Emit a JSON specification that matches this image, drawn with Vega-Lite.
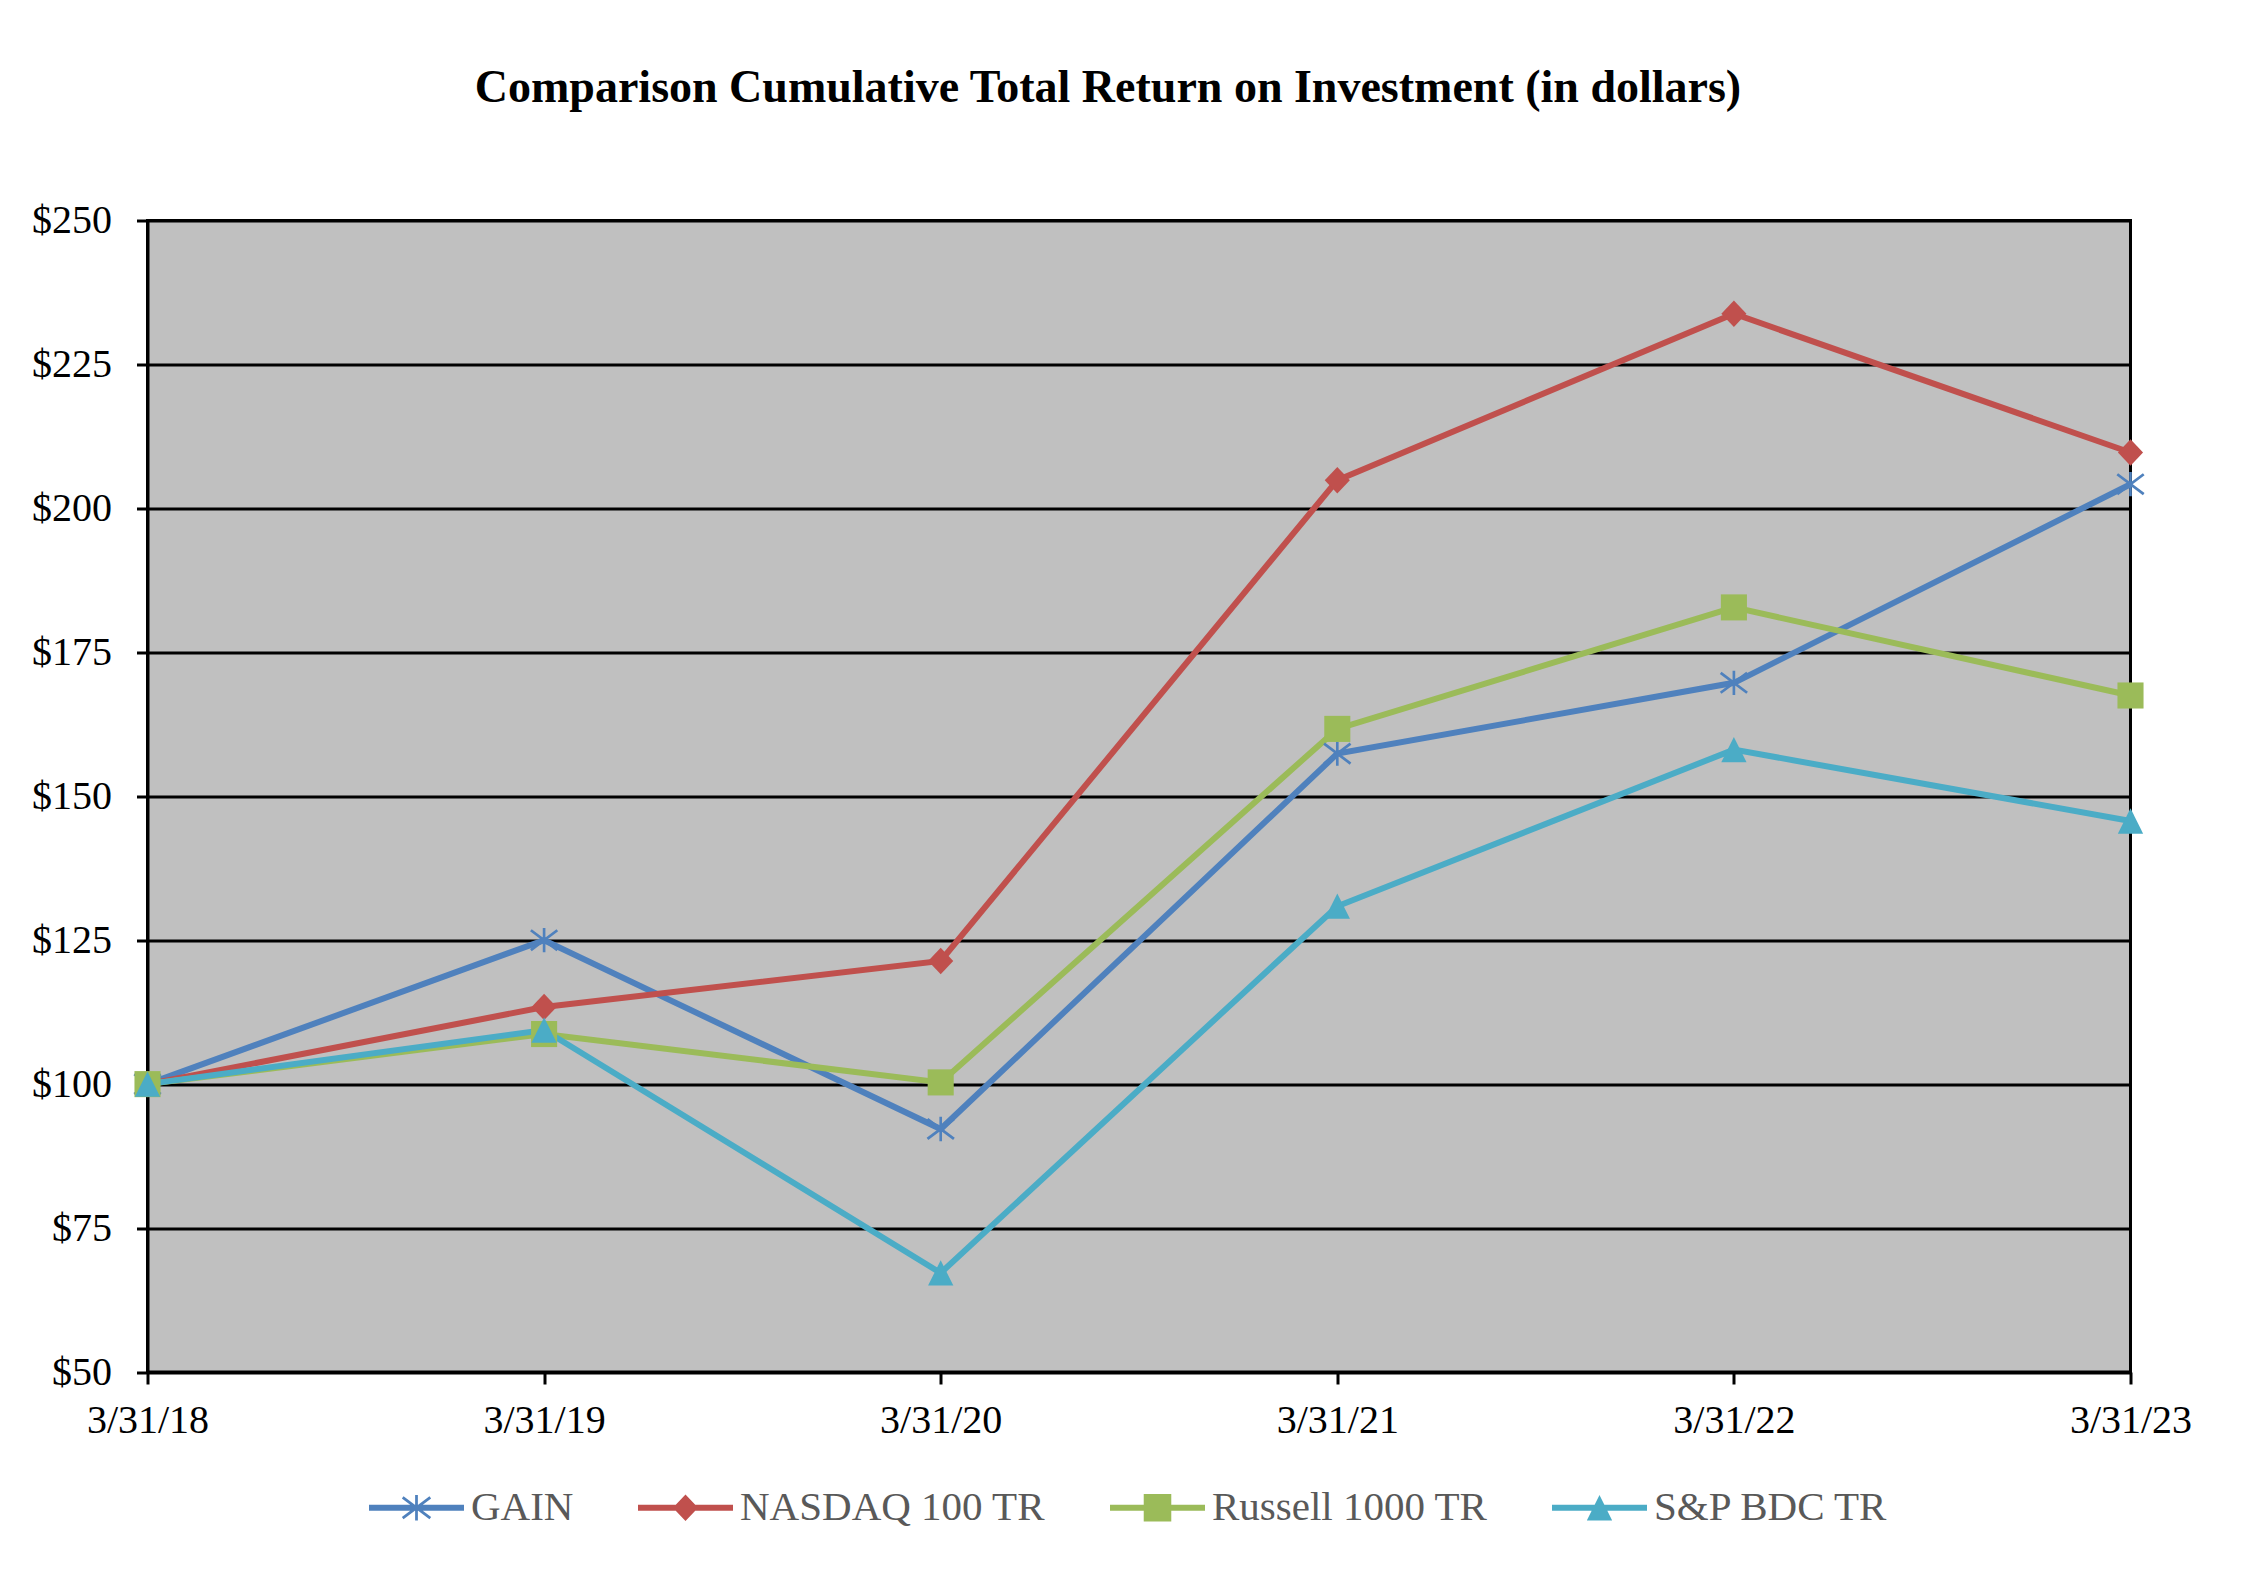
{
  "$schema": "https://vega.github.io/schema/vega-lite/v6.json",
  "width": 1983,
  "height": 1151.5,
  "autosize": {"type": "none"},
  "padding": {"left": 147.5, "top": 220.5, "right": 114.5, "bottom": 201},
  "background": "white",
  "view": {"stroke": "black", "strokeWidth": 3, "fill": "#C0C0C0"},
  "title": {
    "text": "Comparison Cumulative Total Return on Investment (in dollars)",
    "font": "Liberation Serif",
    "fontSize": 46,
    "fontWeight": "bold",
    "color": "black",
    "anchor": "middle",
    "frame": "group",
    "dx": -31,
    "offset": 53,
    "baseline": "alphabetic"
  },
  "config": {
    "view": {"stroke": "black", "strokeWidth": 3, "fill": "#C0C0C0"},
    "axis": {"labelFont": "Liberation Serif", "labelFontSize": 40, "labelColor": "black"}
  },
  "data": {
    "values": [
      {"date": "3/31/18", "series": "GAIN", "value": 100},
      {"date": "3/31/19", "series": "GAIN", "value": 125.0},
      {"date": "3/31/20", "series": "GAIN", "value": 92.2},
      {"date": "3/31/21", "series": "GAIN", "value": 157.4},
      {"date": "3/31/22", "series": "GAIN", "value": 169.7},
      {"date": "3/31/23", "series": "GAIN", "value": 204.2},
      {"date": "3/31/18", "series": "NASDAQ 100 TR", "value": 100},
      {"date": "3/31/19", "series": "NASDAQ 100 TR", "value": 113.4},
      {"date": "3/31/20", "series": "NASDAQ 100 TR", "value": 121.4},
      {"date": "3/31/21", "series": "NASDAQ 100 TR", "value": 204.9},
      {"date": "3/31/22", "series": "NASDAQ 100 TR", "value": 233.8},
      {"date": "3/31/23", "series": "NASDAQ 100 TR", "value": 209.7},
      {"date": "3/31/18", "series": "Russell 1000 TR", "value": 100},
      {"date": "3/31/19", "series": "Russell 1000 TR", "value": 108.7},
      {"date": "3/31/20", "series": "Russell 1000 TR", "value": 100.3},
      {"date": "3/31/21", "series": "Russell 1000 TR", "value": 161.7},
      {"date": "3/31/22", "series": "Russell 1000 TR", "value": 182.8},
      {"date": "3/31/23", "series": "Russell 1000 TR", "value": 167.5},
      {"date": "3/31/18", "series": "S&P BDC TR", "value": 100},
      {"date": "3/31/19", "series": "S&P BDC TR", "value": 109.4},
      {"date": "3/31/20", "series": "S&P BDC TR", "value": 67.2},
      {"date": "3/31/21", "series": "S&P BDC TR", "value": 130.9},
      {"date": "3/31/22", "series": "S&P BDC TR", "value": 158.1},
      {"date": "3/31/23", "series": "S&P BDC TR", "value": 145.7}
    ]
  },
  "encoding": {
    "x": {
      "field": "date",
      "type": "ordinal",
      "scale": {"type": "point", "padding": 0},
      "axis": {
        "title": null,
        "labelAngle": 0,
        "grid": false,
        "domainColor": "black",
        "domainWidth": 3,
        "tickColor": "black",
        "tickWidth": 3,
        "tickSize": 12,
        "labelPadding": 16
      }
    },
    "y": {
      "field": "value",
      "type": "quantitative",
      "scale": {"domain": [50, 250], "nice": false, "zero": false},
      "axis": {
        "title": null,
        "values": [50, 75, 100, 125, 150, 175, 200, 225, 250],
        "labelExpr": "'$' + datum.value",
        "grid": true,
        "gridColor": "black",
        "gridWidth": 3,
        "gridOpacity": 1,
        "domainColor": "black",
        "domainWidth": 3,
        "tickColor": "black",
        "tickWidth": 3,
        "tickSize": 11,
        "labelPadding": 25
      }
    }
  },
  "layer": [
    {
      "mark": {"type": "line", "strokeWidth": 6},
      "encoding": {
        "color": {
          "field": "series",
          "type": "nominal",
          "scale": {
            "domain": ["GAIN", "NASDAQ 100 TR", "Russell 1000 TR", "S&P BDC TR"],
            "range": ["#4F81BD", "#C0504D", "#9BBB59", "#4BACC6"]
          },
          "legend": {
            "orient": "none",
            "legendX": 221.5,
            "legendY": 1239.5,
            "direction": "horizontal",
            "title": null,
            "symbolSize": 9025,
            "labelFont": "Liberation Serif",
            "labelFontSize": 41,
            "labelColor": "#595959",
            "labelOffset": 7,
            "labelLimit": 500,
            "columnPadding": 64,
            "padding": 0,
            "encode": {
              "symbols": {
                "update": {
                  "shape": {"signal": "datum.value === 'GAIN' ? 'M-1,-0.063H1V0.063H-1Z M-0.029,-0.267H0.029V0.267H-0.029Z M-0.273,-0.2415L0.308,0.193L0.273,0.2415L-0.308,-0.193Z M-0.308,0.193L0.273,-0.2415L0.308,-0.193L-0.273,0.2415Z' : datum.value === 'NASDAQ 100 TR' ? 'M-1,-0.063H1V0.063H-1Z M0,-0.278L0.265,0L0,0.278L-0.265,0Z' : datum.value === 'Russell 1000 TR' ? 'M-1,-0.063H1V0.063H-1Z M-0.29,-0.29H0.29V0.29H-0.29Z' : 'M-1,-0.063H1V0.063H-1Z M0,-0.267L0.267,0.267H-0.267Z'"},
                  "fill": {"signal": "datum.value === 'GAIN' ? '#4F81BD' : datum.value === 'NASDAQ 100 TR' ? '#C0504D' : datum.value === 'Russell 1000 TR' ? '#9BBB59' : '#4BACC6'"},
                  "fillOpacity": {"value": 1},
                  "opacity": {"value": 1},
                  "strokeWidth": {"value": 0}
                }
              }
            }
          }
        }
      }
    },
    {
      "transform": [{"filter": "datum.series === 'GAIN'"}],
      "mark": {
        "type": "point", "filled": true, "opacity": 1, "color": "#4F81BD", "size": 700,
        "shape": "M-0.1,-0.92H0.1V0.92H-0.1Z M-0.9375,-0.833L1.0625,0.667L0.9375,0.833L-1.0625,-0.667Z M-1.0625,0.667L0.9375,-0.833L1.0625,-0.667L-0.9375,0.833Z"
      }
    },
    {
      "transform": [{"filter": "datum.series === 'NASDAQ 100 TR'"}],
      "mark": {
        "type": "point", "filled": true, "opacity": 1, "color": "#C0504D", "size": 700,
        "shape": "M0,-1L0.95,0L0,1L-0.95,0Z"
      }
    },
    {
      "transform": [{"filter": "datum.series === 'Russell 1000 TR'"}],
      "mark": {
        "type": "point", "filled": true, "opacity": 1, "color": "#9BBB59", "size": 680,
        "shape": "M-1,-1H1V1H-1Z"
      }
    },
    {
      "transform": [{"filter": "datum.series === 'S&P BDC TR'"}],
      "mark": {
        "type": "point", "filled": true, "opacity": 1, "color": "#4BACC6", "size": 640,
        "shape": "M0,-1L1,1H-1Z"
      }
    }
  ]
}
